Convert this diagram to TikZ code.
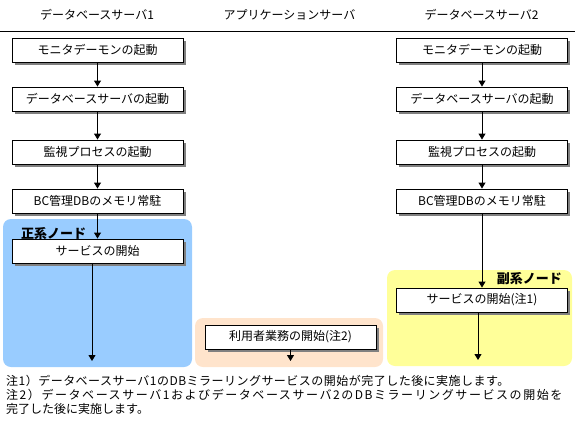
\documentclass[tikz,border=0pt]{standalone}
\usepackage{fontspec}
\setmainfont{Noto Sans CJK JP}
\usetikzlibrary{arrows.meta,shadows,positioning}
\definecolor{mainblue}{HTML}{99CCFF}
\definecolor{subyellow}{HTML}{FFFF99}
\definecolor{apppeach}{HTML}{FFE4CC}
\begin{document}
\begin{tikzpicture}[x=1pt,y=-1pt,
  stepbox/.style={draw=black,line width=0.9pt,fill=white,minimum width=171pt,
    minimum height=24pt,inner sep=0pt,font=\fontsize{12pt}{14pt}\selectfont,
    drop shadow={shadow xshift=2.5pt,shadow yshift=-2.5pt,fill=gray,opacity=1}},
  flow/.style={-{Triangle[width=7pt,length=6pt]},line width=0.9pt},
  area/.style={rounded corners=8pt,draw=none},
  hdr/.style={inner sep=0pt,font=\fontsize{12pt}{14pt}\selectfont},
  tag/.style={inner sep=0pt,font=\bfseries\fontsize{13pt}{15pt}\selectfont},
  note/.style={anchor=west,inner sep=0pt,font=\fontsize{12pt}{14pt}\selectfont}]
\useasboundingbox (0,0) rectangle (575,423);
% columns
\node[hdr] (hdrL) at (97,15) {データベースサーバ1};
\node[hdr] (hdrA) at (289.5,15) {アプリケーションサーバ};
\node[hdr] (hdrR) at (481.5,15) {データベースサーバ2};
\draw[line width=0.9pt] (0,31) -- (575,31);
% node areas
\fill[area,mainblue] (3,219) rectangle (192,367);
\fill[area,apppeach] (195,318) rectangle (383,367);
\fill[area,subyellow] (387,270) rectangle (572,366);
\node[tag,anchor=west] (mainTag) at (21,234) {正系ノード};
\node[tag,anchor=east] (subTag) at (562,279) {副系ノード};
% database server 1
\node[stepbox] (monL) at (97.5,50) {モニタデーモンの起動};
\node[stepbox] (dbL) at (97.5,99) {データベースサーバの起動};
\node[stepbox] (watchL) at (97.5,152) {監視プロセスの起動};
\node[stepbox] (bcL) at (97.5,201) {BC管理DBのメモリ常駐};
\node[stepbox] (svcL) at (97.5,251) {サービスの開始};
\coordinate (endL) at (92,361);
\draw[flow] (monL) -- (dbL);
\draw[flow] (dbL) -- (watchL);
\draw[flow] (watchL) -- (bcL);
\draw[flow] (bcL) -- (svcL);
\draw[flow] (svcL.south -| endL) -- (endL);
% application server
\node[stepbox] (app) at (290.5,337) {利用者業務の開始(注2)};
\coordinate (endA) at (290.5,361);
\draw[flow] (app) -- (endA);
% database server 2
\node[stepbox] (monR) at (482,50) {モニタデーモンの起動};
\node[stepbox] (dbR) at (482,99) {データベースサーバの起動};
\node[stepbox] (watchR) at (482,152) {監視プロセスの起動};
\node[stepbox] (bcR) at (482,201) {BC管理DBのメモリ常駐};
\node[stepbox] (svcR) at (482,300) {サービスの開始(注1)};
\coordinate (endR) at (478,360);
\draw[flow] (monR) -- (dbR);
\draw[flow] (dbR) -- (watchR);
\draw[flow] (watchR) -- (bcR);
\draw[flow] (bcR) -- (svcR);
\draw[flow] (svcR.south -| endR) -- (endR);
% notes
\node[note] (note1) at (6,381) {\addfontfeature{LetterSpace=4}注1）データベースサーバ1のDBミラーリングサービスの開始が完了した後に実施します。};
\node[note] (note2) at (6,395) {\addfontfeature{LetterSpace=13}注2）データベースサーバ1およびデータベースサーバ2のDBミラーリングサービスの開始を};
\node[note] (note3) at (6,409) {完了した後に実施します。};
\end{tikzpicture}
\end{document}
